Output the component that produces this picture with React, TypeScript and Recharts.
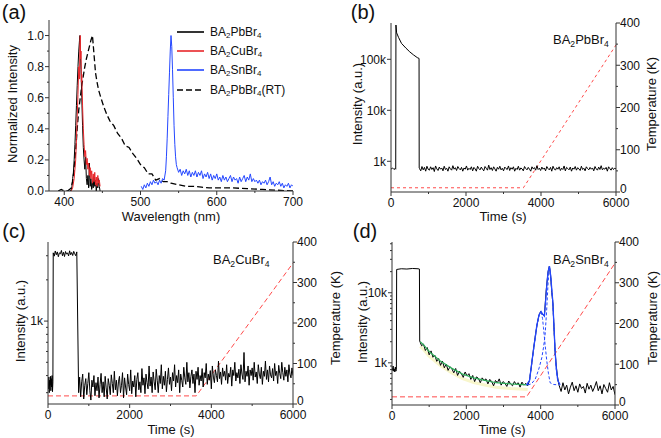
import React from 'react';
import { ComposedChart, Line, XAxis, YAxis } from 'recharts';

// ---- (a) normalized PL spectra ----
const pbWl = [404, 407, 409, 410, 411, 412, 413, 414, 415, 416, 417, 418, 419, 420, 420.5, 421, 422, 423, 424, 425, 426, 427, 428, 429, 430, 431, 432, 433, 434, 435, 436, 437, 438, 439, 440, 441, 442, 443, 444, 445, 446, 447];
const pbI = [0, 0.01, 0, 0.03, 0.08, 0.12, 0.2, 0.3, 0.42, 0.55, 0.68, 0.8, 0.9, 0.97, 1.0, 0.92, 0.78, 0.6, 0.42, 0.28, 0.2, 0.14, 0.22, 0.08, 0.04, 0.1, 0.02, 0.18, 0.03, 0.08, 0.01, 0.06, 0.02, 0.09, 0.03, 0.07, 0, 0.05, 0.02, 0.08, 0.03, 0];

const cuWl = [409, 411, 413, 415, 416, 417, 418, 419, 420, 420.5, 421, 421.5, 422, 422.5, 423, 424, 425, 426, 427, 428, 429, 430, 431, 432, 433, 434, 435, 436, 437, 438, 439, 440, 441, 442, 443, 444, 445, 446, 447];
const cuI = [0, 0.02, 0.08, 0.2, 0.33, 0.48, 0.62, 0.8, 0.72, 0.95, 1.0, 0.85, 0.9, 0.7, 0.75, 0.55, 0.4, 0.3, 0.22, 0.26, 0.17, 0.21, 0.14, 0.18, 0.1, 0.15, 0.08, 0.13, 0.05, 0.11, 0.06, 0.12, 0.04, 0.09, 0.03, 0.1, 0.05, 0.07, 0.03];

const snWl = [501, 503, 505, 507, 509, 511, 513, 515, 517, 519, 521, 523, 525, 527, 529, 531, 533, 534, 535, 536, 537, 538, 539, 540, 541, 542, 543, 544, 545, 546, 547, 548, 550, 552, 554, 556, 558, 560, 562, 564, 566, 568, 570, 572, 574, 576, 578, 580, 582, 584, 586, 588, 590, 592, 594, 596, 598, 600, 602, 604, 606, 608, 610, 612, 614, 616, 618, 620, 622, 624, 626, 628, 630, 632, 634, 636, 638, 640, 642, 644, 646, 648, 650, 652, 654, 656, 658, 660, 662, 664, 666, 668, 670, 672, 674, 676, 678, 680, 682, 684, 686, 688, 690, 692, 694, 696, 698, 700];
const snI = [0.03, 0.01, 0.04, 0.02, 0.05, 0.03, 0.06, 0.04, 0.07, 0.05, 0.06, 0.04, 0.07, 0.05, 0.08, 0.07, 0.13, 0.22, 0.34, 0.48, 0.62, 0.76, 0.9, 1.0, 0.93, 0.78, 0.6, 0.42, 0.3, 0.22, 0.17, 0.15, 0.12, 0.14, 0.1, 0.13, 0.11, 0.14, 0.1, 0.13, 0.09, 0.12, 0.1, 0.13, 0.09, 0.12, 0.1, 0.13, 0.08, 0.11, 0.09, 0.12, 0.08, 0.11, 0.07, 0.1, 0.08, 0.11, 0.07, 0.09, 0.06, 0.1, 0.07, 0.09, 0.06, 0.08, 0.1, 0.06, 0.09, 0.07, 0.08, 0.05, 0.09, 0.06, 0.08, 0.1, 0.06, 0.09, 0.07, 0.11, 0.06, 0.08, 0.06, 0.07, 0.05, 0.07, 0.04, 0.06, 0.05, 0.07, 0.04, 0.06, 0.09, 0.04, 0.06, 0.03, 0.05, 0.04, 0.06, 0.03, 0.05, 0.02, 0.04, 0.03, 0.05, 0.02, 0.04, 0.03];

const rtWl = [392, 396, 400, 405, 409, 411, 413, 415, 417, 419, 421, 423, 425, 427, 429, 431, 433, 435, 437, 439, 441, 443, 445, 448, 452, 456, 460, 465, 470, 475, 480, 485, 490, 495, 500, 505, 510, 515, 520, 525, 530, 535, 540, 550, 560, 570, 580, 590, 600, 620, 640, 660, 680, 700];
const rtI = [0, 0.01, 0, 0, 0.02, 0.06, 0.14, 0.26, 0.4, 0.52, 0.6, 0.68, 0.74, 0.8, 0.85, 0.89, 0.93, 0.97, 1.0, 0.88, 0.76, 0.7, 0.65, 0.6, 0.54, 0.49, 0.45, 0.42, 0.37, 0.34, 0.29, 0.28, 0.24, 0.21, 0.17, 0.15, 0.11, 0.11, 0.07, 0.08, 0.06, 0.06, 0.05, 0.04, 0.03, 0.03, 0.025, 0.02, 0.02, 0.02, 0.015, 0.01, 0.005, 0];

// ---- (b) BA2PbBr4 time trace ----
const bHeadT = [0, 40, 80, 110, 126, 132, 150, 200, 280, 400, 500, 600, 700, 748, 752];
const bHeadI = [700, 740, 690, 720, 700, 470000, 330000, 270000, 205000, 165000, 140000, 122000, 108000, 104000, 740];
const bNoise = [
  720, 650, 790, 680, 760, 640, 800, 700, 670, 780,
  690, 750, 630, 810, 710, 660, 770, 700, 740, 650,
  800, 690, 730, 640, 780, 710, 670, 820, 700, 750,
  660, 790, 720, 680, 760, 640, 740, 700, 810, 670,
  730, 690, 780, 650, 760, 710, 640, 800, 720, 680,
  770, 700, 650, 790, 730, 670, 840, 690, 750, 660,
  780, 710, 640, 760, 700, 800, 680, 730, 650, 770,
  720, 690, 810, 660, 750, 700, 780, 640, 730, 690,
  800, 670, 740, 710, 650, 790, 720, 680, 760, 700,
  640, 780, 710, 750, 670, 820, 690, 730, 660, 770,
  700, 740, 650, 790, 720, 680, 760, 640, 800, 710,
  670, 750, 700, 780, 660, 730, 690, 810, 650, 760,
  720, 680, 770, 640, 740, 700, 790, 670, 750, 710,
  660, 800, 690, 730, 650, 780, 720, 680, 760, 700,
  740, 650, 790, 710, 670, 770, 690, 820, 680, 730,
  700, 760, 640, 780, 720, 670, 750, 690, 730, 710,
];
const bTempT = [0, 3530, 6000];
const bTempK = [10, 10, 348];

// ---- (c) BA2CuBr4 time trace ----
const cHeadT = [0, 10, 20, 30, 40, 50, 60, 70, 80, 90, 100, 110, 120];
const cHeadI = [360, 320, 390, 300, 370, 340, 395, 310, 380, 330, 400, 305, 360];
const cPlateau = [3150, 2980, 3250, 3050, 3200, 2950, 3150, 3100, 3280, 3000, 3180, 2960, 3220, 3080, 3150, 2990, 3260, 3050, 3170, 3010, 3230, 3100, 3000, 3200];
const cNoise = [
  300, 390, 280, 360, 410, 270, 340, 380, 290, 350,
  420, 310, 265, 370, 330, 400, 285, 355, 310, 390,
  275, 345, 415, 300, 360, 280, 395, 325, 270, 380,
  340, 290, 405, 350, 300, 430, 315, 370, 285, 360,
  395, 300, 340, 420, 275, 385, 330, 290, 410, 345,
  310, 440, 295, 365, 330, 400, 280, 375, 420, 315,
  360, 300, 450, 340, 385, 295, 410, 355, 320, 470,
  335, 390, 300, 425, 360, 315, 445, 370, 300, 400,
  350, 480, 320, 395, 340, 430, 305, 375, 455, 345,
  390, 310, 420, 365, 480, 330, 400, 355, 440, 300,
  410, 370, 330, 460, 385, 345, 500, 360, 420, 325,
  395, 440, 350, 410, 300, 430, 375, 460, 340, 400,
  365, 450, 330, 420, 385, 490, 345, 410, 370, 435,
  320, 470, 390, 355, 440, 400, 360, 510, 380, 425,
  345, 455, 395, 430, 370, 480, 350, 415, 390, 460,
  335, 440, 400, 500, 365, 420, 385, 445, 350, 480,
  410, 375, 590, 360, 430, 395, 470, 340, 440, 400,
  455, 370, 500, 390, 425, 350, 480, 410, 380, 460,
  345, 430, 395, 510, 375, 440, 360, 470, 405, 385,
  450, 365, 490, 400, 430, 350, 475, 415, 380, 500,
  420, 370, 460, 395, 440, 360, 480, 410, 385, 455, 400,
];
const cTempT = [0, 3630, 6000];
const cTempK = [20, 20, 348];

// ---- (d) BA2SnBr4 time trace ----
const dHeadT = [0, 15, 30, 45, 60, 75, 90, 105, 118, 125, 250, 400, 550, 700, 738];
const dHeadI = [850, 780, 900, 760, 820, 740, 870, 760, 800, 21500, 22000, 21800, 22200, 22000, 21800];
const dDecay = [
  2050, 1750, 1850, 1500, 1650, 1300, 1480, 1200, 1280,
  1050, 1150, 920, 1060, 850, 960, 780, 880, 820,
  720, 830, 660, 760, 700, 620, 740, 650, 700,
  580, 660, 540, 630, 600, 520, 610, 560, 590,
  500, 580, 540, 470, 560, 520, 590, 480, 540,
  510, 460, 550, 500, 470, 540, 490, 520, 450,
  530, 480, 510, 470,
];
const dPeakT = [3700, 3750, 3800, 3850, 3900, 3950, 4000, 4050, 4100, 4150, 4200, 4235, 4270, 4300, 4330, 4360, 4390, 4420, 4450, 4480];
const dPeakI = [560, 900, 1450, 2300, 3400, 4700, 5400, 4900, 4700, 11000, 20000, 24000, 17000, 10000, 7000, 3000, 1400, 900, 650, 520];
const dTail = [470, 390, 520, 410, 480, 360, 450, 530, 400, 470, 380, 500, 430, 460, 370, 510, 420, 480, 390, 450, 540, 400, 470, 360, 490, 430, 380, 520, 410, 460, 350];
const dFitT = [760, 850, 1000, 1300, 1600, 1900, 2200, 2500, 2800, 3200, 3650];
const dFitI = [2000, 1800, 1450, 1060, 840, 690, 610, 560, 520, 500, 485];
const dSumT = [3620, 3700, 3800, 3900, 3960, 4010, 4050, 4100, 4140, 4170, 4200, 4236, 4270, 4300, 4325, 4360, 4388, 4420, 4460, 4520];
const dSumI = [480, 560, 1450, 3500, 4900, 5400, 5000, 4650, 8500, 14000, 20000, 24000, 17500, 11000, 7700, 3200, 1480, 850, 560, 490];
const dP1T = [3620, 3700, 3800, 3900, 3960, 4010, 4050, 4075, 4120, 4164, 4210, 4254, 4350, 4500];
const dP1I = [480, 560, 1400, 3400, 4800, 5300, 4300, 3200, 1800, 1070, 700, 520, 490, 485];
const dP2T = [3650, 3750, 3850, 3900, 3960, 4030, 4080, 4120, 4160, 4200, 4236, 4270, 4300, 4325, 4360, 4388, 4420, 4460, 4520];
const dP2I = [485, 500, 580, 680, 850, 1180, 1700, 2550, 5500, 14000, 23500, 17000, 10500, 7500, 3000, 1450, 800, 560, 490];
const dTempT = [0, 3620, 6000];
const dTempK = [20, 20, 348];

const timeTicks = [0, 1000, 2000, 3000, 4000, 5000, 6000];
const timeMajors = [0, 2000, 4000, 6000];
const tempTicks = [0, 50, 100, 150, 200, 250, 300, 350, 400];
const tempMajors = [0, 100, 200, 300, 400];

const pts = (xs: number[], ys: number[]) => xs.map((x, i) => ({ x, y: ys[i] }));
const spread = (t0: number, t1: number, ys: number[]) =>
  ys.map((y, i) => ({ x: t0 + (i * (t1 - t0)) / (ys.length - 1), y }));

const FONT = '"Liberation Sans", Arial, Helvetica, sans-serif';
const AX = '#333';
const RED = '#e8262a';
const TEMP = '#ff4a4a';
const BLUE = '#2447ff';
const TS = 3;
const TM = 2;

const kFmt = (v: number) => (v >= 1000 ? `${v / 1000}k` : `${v}`);

function mkTick(side: string, isMajor: (v: number) => boolean, fmt: (v: number) => string) {
  return (p: any) => {
    const { x, y, payload } = p;
    const v = payload.value;
    const major = isMajor(v);
    const len = major ? 4 : 2;
    const off = TS + TM;
    const txt = { fontSize: 12, fill: '#111', fontFamily: FONT };
    if (side === 'bottom') {
      const a = y - off;
      return (
        <g>
          <line x1={x} x2={x} y1={a} y2={a + len} stroke={AX} />
          {major && <text x={x} y={a + 6} dy="0.71em" textAnchor="middle" {...txt}>{fmt(v)}</text>}
        </g>
      );
    }
    if (side === 'top') {
      const a = y + off;
      return <line x1={x} x2={x} y1={a} y2={a + len} stroke={AX} />;
    }
    if (side === 'left') {
      const a = x + off;
      return (
        <g>
          <line x1={a} x2={a - len} y1={y} y2={y} stroke={AX} />
          {major && <text x={a - 5} y={y} dy="0.36em" textAnchor="end" {...txt}>{fmt(v)}</text>}
        </g>
      );
    }
    if (side === 'right') {
      const a = x - off;
      return (
        <g>
          <line x1={a} x2={a + len} y1={y} y2={y} stroke={AX} />
          {major && <text x={a + 4} y={v === 0 ? y - 3 : y} dy="0.36em" textAnchor="start" {...txt}>{fmt(v)}</text>}
        </g>
      );
    }
    const a = x - off;
    return <line x1={a} x2={a - len} y1={y} y2={y} stroke={AX} />;
  };
}

const inList = (list: number[]) => (v: number) => list.includes(v);

const Chem = ({ s }: { s: string }) => (
  <>
    {s.split(/(\d)/).map((part, i) =>
      /\d/.test(part) ? (
        <span key={i} style={{ fontSize: '0.66em', position: 'relative', top: '0.4em' }}>{part}</span>
      ) : (
        <span key={i}>{part}</span>
      )
    )}
  </>
);

const Txt = ({ x, y, size = 13, rot = false, children }: any) => (
  <div
    style={{
      position: 'absolute',
      left: x,
      top: y,
      fontSize: size,
      whiteSpace: 'nowrap',
      color: '#111',
      transform: rot ? 'translate(-50%, -50%) rotate(-90deg)' : 'translate(-50%, -50%)',
    }}
  >
    {children}
  </div>
);

const line = (data: any[], color: string, extra: any = {}) => (
  <Line
    data={data}
    dataKey="y"
    type="linear"
    stroke={color}
    strokeWidth={1}
    dot={false}
    isAnimationActive={false}
    {...extra}
  />
);

const timeAxes = (leftTicks: number[], leftMajors: number[], yDomain: [number, number]) => [
  <XAxis key="xb" type="number" dataKey="x" domain={[0, 6000]} ticks={timeTicks} interval={0} height={20}
    tickSize={TS} tickMargin={TM} tickLine={false} axisLine={{ stroke: AX }} allowDataOverflow
    tick={mkTick('bottom', inList(timeMajors), String)} />,
  <XAxis key="xt" xAxisId="top" orientation="top" type="number" dataKey="x" domain={[0, 6000]} ticks={timeTicks}
    interval={0} height={0} tickSize={TS} tickMargin={TM} tickLine={false} axisLine={{ stroke: AX }}
    tick={mkTick('top', inList(timeMajors), String)} />,
  <YAxis key="yl" type="number" scale="log" domain={yDomain} ticks={leftTicks} interval={0} width={40}
    tickSize={TS} tickMargin={TM} tickLine={false} axisLine={{ stroke: AX }} allowDataOverflow
    tick={mkTick('left', inList(leftMajors), kFmt)} />,
  <YAxis key="yr" yAxisId="r" orientation="right" type="number" domain={[0, 400]} ticks={tempTicks} interval={0}
    width={30} tickSize={TS} tickMargin={TM} tickLine={false} axisLine={{ stroke: AX }} allowDataOverflow
    tick={mkTick('right', inList(tempMajors), String)} />,
];

const legendRows = [
  { label: 'BA2PbBr4', color: '#000', dash: undefined, y: 32 },
  { label: 'BA2CuBr4', color: RED, dash: undefined, y: 51 },
  { label: 'BA2SnBr4', color: BLUE, dash: undefined, y: 70 },
  { label: 'BA2PbBr4(RT)', color: '#000', dash: '6 3', y: 90 },
];

const aTicks = [0, 0.1, 0.2, 0.3, 0.4, 0.5, 0.6, 0.7, 0.8, 0.9, 1.0];
const aMajor = (v: number) => Math.round(v * 10) % 2 === 0;
const wlTicks = [400, 450, 500, 550, 600, 650, 700];
const wlMajors = [400, 500, 600, 700];

export default function App() {
  const pos = (l: number, t: number): React.CSSProperties => ({ position: 'absolute', left: l, top: t });
  return (
    <div style={{ position: 'absolute', left: 0, top: 0, width: 661, height: 438, background: '#fff', fontFamily: FONT, overflow: 'hidden' }}>
      {/* (a) */}
      <div style={pos(0, 0)}>
        <ComposedChart width={330} height={220} margin={{ top: 20, right: 37, bottom: 9, left: 9 }}>
          <XAxis type="number" dataKey="x" domain={[380, 700]} ticks={wlTicks} interval={0} height={20}
            tickSize={TS} tickMargin={TM} tickLine={false} axisLine={{ stroke: AX }} allowDataOverflow
            tick={mkTick('bottom', inList(wlMajors), String)} />
          <XAxis xAxisId="top" orientation="top" type="number" dataKey="x" domain={[380, 700]} ticks={wlTicks}
            interval={0} height={0} tickSize={TS} tickMargin={TM} tickLine={false} axisLine={{ stroke: AX }}
            tick={mkTick('top', inList(wlMajors), String)} />
          <YAxis type="number" domain={[0, 1.1]} ticks={aTicks} interval={0} width={40} tickSize={TS} tickMargin={TM}
            tickLine={false} axisLine={{ stroke: AX }} allowDataOverflow tick={mkTick('left', aMajor, (v) => v.toFixed(1))} />
          <YAxis yAxisId="r" orientation="right" type="number" domain={[0, 1.1]} ticks={aTicks} interval={0} width={0}
            tickSize={TS} tickMargin={TM} tickLine={false} axisLine={{ stroke: AX }} tick={mkTick('rightIn', aMajor, String)} />
          {line(pts(rtWl, rtI), '#000', { strokeDasharray: '6 3', strokeWidth: 1.3 })}
          {line(pts(snWl, snI), BLUE)}
          {line(pts(pbWl, pbI), '#000')}
          {line(pts(cuWl, cuI), RED)}
        </ComposedChart>
      </div>

      {/* (b) */}
      <div style={pos(330, 0)}>
        <ComposedChart width={331} height={220} margin={{ top: 23, right: 15, bottom: 8, left: 21 }}>
          {timeAxes([1000, 10000, 100000], [1000, 10000, 100000], [250, 515000])}
          {line(pts(bTempT, bTempK), TEMP, { yAxisId: 'r', strokeDasharray: '3 3' })}
          {line([...pts(bHeadT, bHeadI), ...spread(760, 6000, bNoise)], '#000')}
        </ComposedChart>
      </div>

      {/* (c) */}
      <div style={pos(0, 218)}>
        <ComposedChart width={330} height={220} margin={{ top: 24, right: 7, bottom: 14, left: 8 }}>
          {timeAxes([300, 400, 500, 600, 700, 800, 900, 1000, 2000, 3000], [1000], [248, 3780])}
          {line(pts(cTempT, cTempK), TEMP, { yAxisId: 'r', strokeDasharray: '5 3' })}
          {line([...pts(cHeadT, cHeadI), ...spread(128, 705, cPlateau), ...spread(750, 6000, cNoise)], '#000')}
        </ComposedChart>
      </div>

      {/* (d) */}
      <div style={pos(330, 218)}>
        <ComposedChart width={331} height={220} margin={{ top: 24, right: 16, bottom: 13, left: 22 }}>
          {timeAxes(
            [300, 400, 500, 600, 700, 800, 900, 1000, 2000, 3000, 4000, 5000, 6000, 7000, 8000, 9000, 10000, 20000, 30000, 40000, 50000],
            [1000, 10000],
            [250, 53000]
          )}
          {line(pts(dTempT, dTempK), TEMP, { yAxisId: 'r', strokeDasharray: '5 3' })}
          {line(pts(dFitT, dFitI.map((v) => v * 0.86)), '#f8f6cc', { strokeWidth: 3 })}
          {line([...pts(dHeadT, dHeadI), ...spread(745, 3650, dDecay), ...pts(dPeakT, dPeakI), ...spread(4500, 6000, dTail)], '#000')}
          {line(pts(dFitT, dFitI), '#2fae5a', { strokeWidth: 1.2 })}
          {line(pts(dP1T, dP1I), BLUE, { strokeDasharray: '3 2' })}
          {line(pts(dP2T, dP2I), BLUE, { strokeDasharray: '3 2' })}
          {line(pts(dSumT, dSumI), BLUE, { strokeWidth: 1.3 })}
        </ComposedChart>
      </div>

      {/* legend (a) */}
      {legendRows.map((r) => (
        <div key={r.label} style={{ position: 'absolute', left: 177, top: r.y - 9, height: 18, display: 'flex', alignItems: 'center', fontSize: 12, color: '#111', whiteSpace: 'nowrap' }}>
          <svg width={28} height={4} style={{ marginRight: 5 }}>
            <line x1={0} x2={27} y1={2} y2={2} stroke={r.color} strokeWidth={1.6} strokeDasharray={r.dash} />
          </svg>
          <Chem s={r.label} />
        </div>
      ))}

      {/* panel letters */}
      <Txt x={14} y={12} size={20}>(a)</Txt>
      <Txt x={363} y={12} size={20}>(b)</Txt>
      <Txt x={14} y={231} size={20}>(c)</Txt>
      <Txt x={365} y={231} size={20}>(d)</Txt>

      {/* compound names */}
      <div style={{ position: 'absolute', left: 553, top: 32, fontSize: 13, color: '#111' }}><Chem s="BA2PbBr4" /></div>
      <div style={{ position: 'absolute', left: 213, top: 252, fontSize: 13, color: '#111' }}><Chem s="BA2CuBr4" /></div>
      <div style={{ position: 'absolute', left: 553, top: 252, fontSize: 13, color: '#111' }}><Chem s="BA2SnBr4" /></div>

      {/* axis titles */}
      <Txt x={12} y={104} rot>Normalized Intensity</Txt>
      <Txt x={171} y={216}>Wavelength (nm)</Txt>
      <Txt x={357} y={104} rot>Intensity (a.u.)</Txt>
      <Txt x={651} y={104} rot>Temperature (K)</Txt>
      <Txt x={503} y={216}>Time (s)</Txt>
      <Txt x={20} y={321} rot>Intensity (a.u.)</Txt>
      <Txt x={335} y={318} rot>Temperature (K)</Txt>
      <Txt x={171} y={429}>Time (s)</Txt>
      <Txt x={362} y={322} rot>Intensity (a.u.)</Txt>
      <Txt x={652} y={318} rot>Temperature (K)</Txt>
      <Txt x={502} y={429}>Time (s)</Txt>
    </div>
  );
}
